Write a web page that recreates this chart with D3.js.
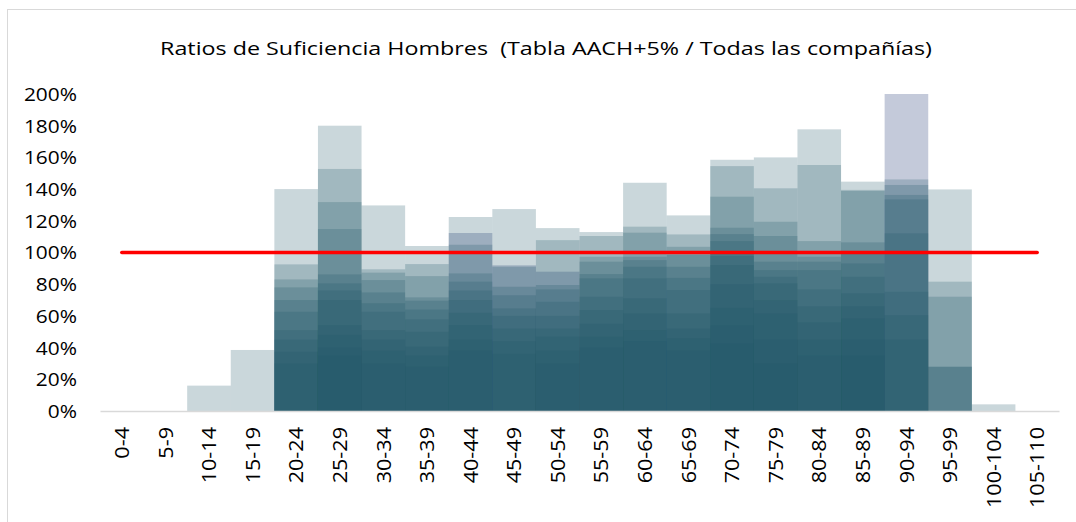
<!DOCTYPE html>
<html><head><meta charset="utf-8">
<script src="https://cdn.jsdelivr.net/npm/d3@7"></script>
<style>
html,body{margin:0;padding:0;background:#fff;}
svg text{font-family:"Open Sans","Noto Sans",sans-serif;fill:#000;white-space:pre;}
</style></head>
<body>
<svg id="chart" width="1076" height="522"></svg>
<script>
const title = "Ratios de Suficiencia Hombres  (Tabla AACH+5% / Todas las compañías)";
const categories = ["0-4","5-9","10-14","15-19","20-24","25-29","30-34","35-39","40-44","45-49","50-54","55-59","60-64","65-69","70-74","75-79","80-84","85-89","90-94","95-99","100-104","105-110"];
const yTicks = [0,20,40,60,80,100,120,140,160,180,200];
const threshold = 100;
const n = null;
// ratio (%) per company, one value per age band
const companyA = [n,n,16,38.5,140,180,129.7,104.1,122.4,127.4,115.4,112.9,144,123.4,158.5,160,177.7,144.7,146.1,139.8,4.2,n];
const companyB = [n,n,n,n,92.5,152.7,89.4,92.7,104.9,91,107.8,110.4,116.3,111.4,154.5,140.5,155.2,139.5,142.6,81.6,n,n];
const companyC = [n,n,n,n,83,131.8,87.3,85.1,86.8,78.4,79.5,97.3,112.5,103.6,135.2,119.4,107.2,138.8,136.3,72.1,n,n];
const companyD = [n,n,n,n,78,114.8,82.6,71.7,81.6,73,76.7,94.2,97.3,98.4,115.6,110.4,97.3,106.4,133.5,27.9,n,n];
const companyE = [n,n,n,n,70,86.2,74.8,69.6,76,64.7,68.9,86.4,95.2,91,111.6,94.2,94.2,100.9,112.1,27.9,n,n];
const companyF = [n,n,n,n,62.6,80.5,68,64,70,60,60,83.7,91,84,107.2,88.9,88.9,93.1,75.2,n,n,n];
const companyG = [n,n,n,n,51,76,62.6,57.8,62,52,52,72.1,83.7,76.3,97.8,84.7,76.7,84.7,60.5,n,n,n];
const companyH = [n,n,n,n,45,70,51,50,54.2,44,46.9,63.7,71.1,61.6,92.1,80.5,66,74.2,45,n,n,n];
const companyI = [n,n,n,n,37.4,54.2,45,40.6,45,36,38,55,61.6,52,80,70,56,66,n,n,n,n];
const companyJ = [n,n,n,n,30,48,38,35,38,n,30,46.9,51,45.8,65,61.6,45,58.4,n,n,n,n];
const companyK = [n,n,n,n,n,40,30,28,n,n,n,40,44,38,54,45,35,45,n,n,n,n];
const companyL = [n,n,n,n,n,35,n,n,n,n,n,n,n,n,42.7,30,n,35,n,n,n,n];
const companyNavy = [n,n,n,n,n,n,n,n,112.3,91.9,87.9,n,n,n,n,n,n,n,215,n,n,n];

const tealSeries = [companyA,companyB,companyC,companyD,companyE,companyF,companyG,companyH,companyI,companyJ,companyK,companyL];

const svg = d3.select("#chart");
const W = 1076, H = 522;
const margin = {left:100, right:17, top:94, bottom:111};

// outer frame
svg.append("rect").attr("x",7.5).attr("y",9.5).attr("width",W+20).attr("height",H+20)
  .attr("fill","none").attr("stroke","#d9d9d9").attr("stroke-width",1);

const x = d3.scaleBand().domain(categories).range([margin.left, W-margin.right]).padding(0);
const y = d3.scaleLinear().domain([0,200]).range([H-margin.bottom, margin.top]);

svg.append("defs").append("clipPath").attr("id","plotclip")
  .append("rect").attr("x",margin.left).attr("y",margin.top)
  .attr("width",W-margin.right-margin.left).attr("height",H-margin.bottom-margin.top);

// widen glyphs to match the reference's wide font
function stretch(sel, factor){
  sel.each(function(){
    const len = this.getComputedTextLength();
    d3.select(this).attr("textLength", len*factor).attr("lengthAdjust","spacingAndGlyphs");
  });
}

const t = svg.append("text").attr("x",546).attr("y",55).attr("text-anchor","middle")
  .style("font-size","18px").text(title);
t.attr("textLength",772).attr("lengthAdjust","spacingAndGlyphs");

// y axis labels
const yAxis = d3.axisLeft(y).tickValues(yTicks).tickFormat(d=>d+"%").tickSize(0).tickPadding(0);
const gy = svg.append("g").attr("transform","translate(77,0)").call(yAxis);
gy.select(".domain").remove();
gy.selectAll("text").style("font-size","18px").attr("dy","0.36em").call(stretch,1.16);

const plot = svg.append("g").attr("clip-path","url(#plotclip)");
function drawSeries(arr, color){
  plot.append("g").selectAll("rect")
    .data(arr.map((v,i)=>({v, c:categories[i]})).filter(d=>d.v!==null))
    .join("rect")
    .attr("x",d=>x(d.c)).attr("width",x.bandwidth())
    .attr("y",d=>y(d.v)).attr("height",d=>y(0)-y(d.v))
    .attr("fill",color).attr("fill-opacity",0.24);
}
drawSeries(companyNavy,"rgb(8,32,100)");
tealSeries.forEach(s=>drawSeries(s,"rgb(32,86,104)"));

// x axis
const xAxis = d3.axisBottom(x).tickSize(0).tickPadding(0);
const gx = svg.append("g").attr("transform",`translate(0,${y(0)})`).call(xAxis);
gx.select(".domain").attr("stroke","#d9d9d9").attr("stroke-width",1.5);
gx.selectAll("text").style("font-size","20px")
  .attr("text-anchor","end").attr("transform","rotate(-90)")
  .attr("x",-16).attr("y",0).attr("dy","0.36em").call(stretch,1.08);

// threshold line
svg.append("line")
  .attr("x1",x(categories[0])+x.bandwidth()/2)
  .attr("x2",x(categories[categories.length-1])+x.bandwidth()/2)
  .attr("y1",y(threshold)).attr("y2",y(threshold))
  .attr("stroke","#ff0000").attr("stroke-width",3.5).attr("stroke-linecap","round");
</script>
</body></html>
